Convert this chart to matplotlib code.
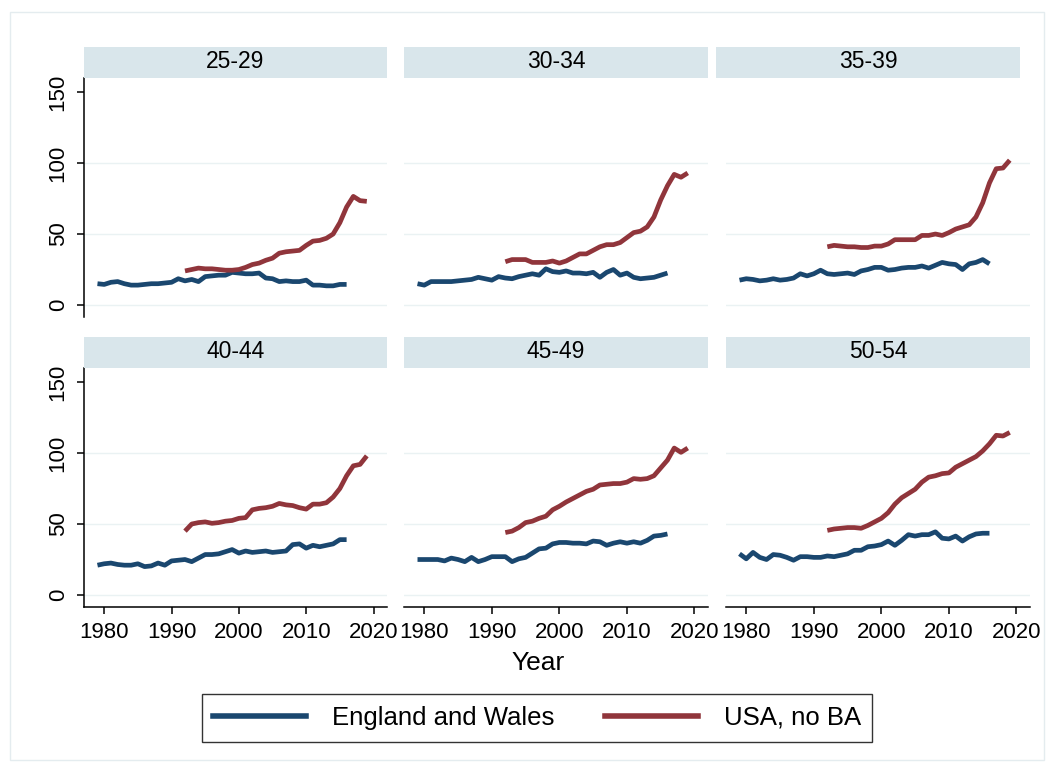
import numpy as np
import matplotlib.pyplot as plt
from matplotlib.patches import Rectangle
from matplotlib.lines import Line2D

plt.rcParams['font.family'] = ['Liberation Sans', 'DejaVu Sans']

W, H = 1052, 771

# ---------------------------------------------------------------------------
# data: ratio by age group, England and Wales vs USA (no BA)
# ---------------------------------------------------------------------------
years_ew = np.arange(1979, 2017)
years_us = np.arange(1992, 2020)

age_groups = ['25-29', '30-34', '35-39', '40-44', '45-49', '50-54']

ew_25_29 = [15, 14.5, 16, 16.5, 15, 14, 14, 14.5, 15, 15, 15.5, 16, 18.5, 17, 18,
            16.5, 20, 20.5, 21, 21, 23, 22.5, 22, 22, 22.5, 19, 18.5, 16.5, 17,
            16.5, 16.5, 17.5, 14, 14, 13.5, 13.5, 14.5, 14.5]
us_25_29 = [24, 25, 26, 25.5, 25.5, 25, 24.5, 24.5, 25, 26.5, 28.5, 29.5, 31.5, 33,
            36.5, 37.5, 38, 38.5, 42, 45, 45.5, 47, 50, 58, 69, 76.5, 73.5, 73]

ew_30_34 = [15, 14, 16.5, 16.5, 16.5, 16.5, 17, 17.5, 18, 19.5, 18.5, 17.5, 20, 19,
            18.5, 20, 21, 22, 21, 25.5, 23.5, 23, 24, 22.5, 22.5, 22, 23, 19.5, 23,
            25, 21, 22.5, 19.5, 18.5, 19, 19.5, 21, 22.5]
us_30_34 = [30.5, 32, 32, 32, 30, 30, 30, 31, 29.5, 31, 33.5, 36, 36, 38.5, 41,
            42.5, 42.5, 44, 47.5, 51, 52, 55, 62, 74, 84, 92, 90, 93]

ew_35_39 = [17.5, 18.5, 18, 17, 17.5, 18.5, 17.5, 18, 19, 22, 20.5, 22, 24.5, 22,
            21.5, 22, 22.5, 21.5, 24, 25, 26.5, 26.5, 24.5, 25, 26, 26.5, 26.5,
            27.5, 26, 28, 30, 29, 28.5, 25, 29, 30, 32, 29]
us_35_39 = [41, 42, 41.5, 41, 41, 40.5, 40.5, 41.5, 41.5, 43, 46, 46, 46, 46, 49,
            49, 50, 49, 51, 53.5, 55, 56.5, 62, 72, 86, 96, 96.5, 102]

ew_40_44 = [21, 22, 22.5, 21.5, 21, 21, 22, 20, 20.5, 22.5, 21, 24, 24.5, 25, 23.5,
            26, 28.5, 28.5, 29, 30.5, 32, 29.5, 31, 30, 30.5, 31, 30, 30.5, 31,
            35.5, 36, 33, 35, 34, 35, 36, 39, 39]
us_40_44 = [45, 50, 51, 51.5, 50.5, 51, 52, 52.5, 54, 54.5, 60, 61, 61.5, 62.5,
            64.5, 63.5, 63, 61.5, 60.5, 64, 64, 65, 69, 75, 84, 91, 92, 98]

ew_45_49 = [25, 25, 25, 25, 24, 26, 25, 23.5, 26.5, 23.5, 25, 27, 27, 27, 23.5,
            25.5, 26.5, 29.5, 32.5, 33, 36, 37, 37, 36.5, 36.5, 36, 38, 37.5, 35,
            36.5, 37.5, 36.5, 37.5, 36.5, 38.5, 41.5, 42, 43]
us_45_49 = [44, 45, 47.5, 51, 52, 54, 55.5, 60, 62.5, 65.5, 68, 70.5, 73, 74.5,
            77.5, 78, 78.5, 78.5, 79.5, 82, 81.5, 82, 84, 89.5, 95, 103.5, 100.5,
            103.5]

ew_50_54 = [29, 25.5, 30, 26.5, 25, 28.5, 28, 26.5, 24.5, 27, 27, 26.5, 26.5, 27.5,
            27, 28, 29, 31.5, 31.5, 34, 34.5, 35.5, 38, 35, 38.5, 42.5, 41.5, 42.5,
            42.5, 44.5, 40, 39.5, 41.5, 38, 41, 43, 43.5, 43.5]
us_50_54 = [45.5, 46.5, 47, 47.5, 47.5, 47, 49, 51.5, 54, 58, 64, 68.5, 71.5, 74.5,
            79.5, 83, 84, 85.5, 86, 90, 92.5, 95, 97.5, 101.5, 106.5, 112.5, 112,
            114.5]

ew_series = [ew_25_29, ew_30_34, ew_35_39, ew_40_44, ew_45_49, ew_50_54]
us_series = [us_25_29, us_30_34, us_35_39, us_40_44, us_45_49, us_50_54]

NAVY = '#1A476F'
MAROON = '#90353B'
STRIP = '#D9E6EB'
GRID = '#EAF2F3'


def px_box(x0, y0, x1, y1):
    """pixel box (top-left origin) -> figure fraction [l, b, w, h]"""
    return [x0 / W, 1 - y1 / H, (x1 - x0) / W, (y1 - y0) / H]


fig = plt.figure(figsize=(W / 100, H / 100), dpi=100)

# light outer frame around the graph region
fig.patches.append(Rectangle((10 / W, 1 - 760 / H), 1034 / W, 748 / H,
                             transform=fig.transFigure, fill=False,
                             edgecolor='#E4ECEF', lw=1.0))

col_x = [(84, 387), (404, 708), (726, 1030)]
row_y = [(78, 317), (368, 607)]
strip_y = [(47, 78), (337, 368)]
# the top-right strip sits slightly left of its plot
strip_x = [[(84, 387), (404, 708), (716, 1020)],
           [(84, 387), (404, 708), (726, 1030)]]

for i, name in enumerate(age_groups):
    r, c = divmod(i, 3)
    x0, x1 = col_x[c]
    y0, y1 = row_y[r]
    ax = fig.add_axes(px_box(x0, y0, x1, y1))
    ax.set_xlim(1977, 2022)
    ax.set_ylim(-8.45, 159.9)

    for v in (0, 50, 100):
        ax.axhline(v, color=GRID, lw=1.0, zorder=0)

    ax.plot(years_ew, ew_series[i], color=NAVY, lw=3.4, solid_capstyle='butt',
            zorder=3)
    ax.plot(years_us, us_series[i], color=MAROON, lw=3.4, solid_capstyle='butt',
            zorder=3)

    for s in ('top', 'right'):
        ax.spines[s].set_visible(False)
    ax.spines['left'].set_visible(c == 0)
    ax.spines['bottom'].set_visible(r == 1)
    for s in ('left', 'bottom'):
        ax.spines[s].set_linewidth(1.1)

    ax.set_yticks([0, 50, 100, 150])
    ax.set_xticks([1980, 1990, 2000, 2010, 2020])
    ax.tick_params(axis='y', length=5, width=1.1, pad=6, labelsize=16,
                   left=(c == 0), labelleft=(c == 0), labelrotation=90)
    ax.tick_params(axis='x', length=5, width=1.1, pad=6, labelsize=16,
                   bottom=(r == 1), labelbottom=(r == 1))
    for lab in ax.get_yticklabels():
        lab.set_verticalalignment('center')

    # strip with the age-group title
    sx0, sx1 = strip_x[r][c]
    sy0, sy1 = strip_y[r]
    sax = fig.add_axes(px_box(sx0, sy0, sx1, sy1))
    sax.set_facecolor(STRIP)
    sax.set_xticks([])
    sax.set_yticks([])
    for s in sax.spines.values():
        s.set_visible(False)
    sax.text(0.5, 0.52, name, ha='center', va='center', fontsize=16.5,
             transform=sax.transAxes)

fig.text(538 / W, 1 - 663 / H, 'Year', ha='center', va='center', fontsize=19)

handles = [Line2D([], [], color=NAVY, lw=4.0),
           Line2D([], [], color=MAROON, lw=4.0)]
leg = fig.legend(handles, ['England and Wales', 'USA, no BA'], ncol=2,
                 loc='center', bbox_to_anchor=(537 / W, 1 - 718 / H),
                 fontsize=18.5, frameon=True, fancybox=False, handlelength=3.6,
                 columnspacing=2.0, handletextpad=1.0, borderpad=0.45)
leg.get_frame().set_edgecolor('black')
leg.get_frame().set_linewidth(1.0)

fig.savefig('out.png', dpi=100)
